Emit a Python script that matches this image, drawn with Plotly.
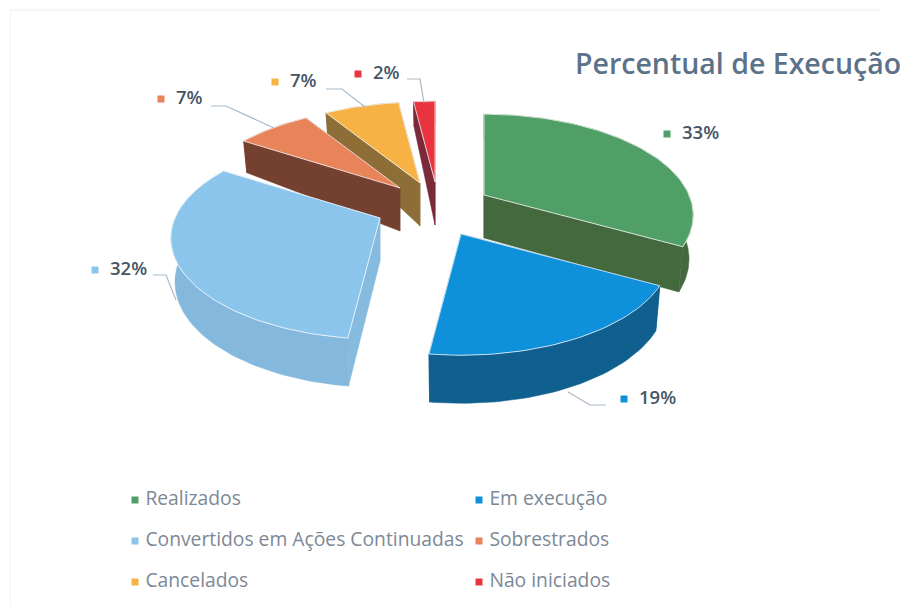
import math
import plotly.graph_objects as go

# ---- data ----
categories = ["Realizados", "Em execução", "Convertidos em Ações Continuadas",
              "Sobrestrados", "Cancelados", "Não iniciados"]
percent_values = [33, 19, 32, 7, 7, 2]
chart_title = "Percentual de Execução"

# ---- styles ----
top_colors = ["#4f9f66", "#0f90da", "#8cc5eb", "#e8835a", "#f7b246", "#e8343f"]
radial_colors = ["#45693f", "#0d5f8e", "#86badf", "#74402f", "#8d6e37", "#7a2a38"]
arc_colors = ["#44693f", "#0f5f8f", "#84b8dc", "#74402f", "#8d6e37", "#7a2a38"]

# ---- layout of the exploded pseudo-3D pie (pixel space) ----
apex_x = [484, 461, 380, 400, 420, 435]
apex_y = [195, 234, 218, 188, 183, 182]
RX, RY, PERSP, DEPTH = 205, 97, 0.2, 43
draw_order = [5, 4, 3, 2, 0, 1]

label_x = [667, 624, 95, 161, 275, 358]
label_y = [134, 399, 270, 99, 82, 74]
leaders = [None,
           ([568, 590, 606], [392, 405, 405]),
           ([153, 166, 176], [275, 275, 300]),
           ([211, 226, 274], [106, 106, 128]),
           ([326, 342, 365], [89, 89, 107]),
           ([407, 420, 424], [79, 79, 103])]

legend_x = [135, 479, 135, 479, 135, 479]
legend_y = [500, 500, 541, 541, 582, 582]

# the page has an 8 px body margin: the axes are shifted so that values are window pixels
PAGE_OFFSET = 8


def project(ax, ay, angle, radius, down=False):
    X, Y = radius * math.sin(angle), radius * math.cos(angle)
    s = 1 / (1 + PERSP * Y)
    if not down:
        return ax + RX * X * s, ay - RY * Y * s
    drop = DEPTH * (s ** 0.5 if s > 1 else s ** 3)
    return ax + 0.98 * RX * X * s, ay - RY * Y * s + drop


fig = go.Figure()

# faint scan edge of the pasted picture
fig.add_trace(go.Scatter(x=[10, 880], y=[10, 10], mode="lines",
                         line=dict(color="#ececec", width=1), hoverinfo="skip"))
fig.add_trace(go.Scatter(x=[10, 10], y=[10, 606], mode="lines",
                         line=dict(color="#f4f4f4", width=1), hoverinfo="skip"))

# slices, computed from the values
total = sum(percent_values)
starts, running = [], 0
for v in percent_values:
    starts.append(running / total * 2 * math.pi)
    running += v
ends = [starts[i] + percent_values[i] / total * 2 * math.pi for i in range(len(percent_values))]


def poly(points, color, line=None, name=None):
    xs, ys = zip(*points)
    fig.add_trace(go.Scatter(x=list(xs) + [xs[0]], y=list(ys) + [ys[0]], mode="lines",
                             fill="toself", fillcolor=color,
                             line=line or dict(color=color, width=0.5),
                             name=name, hoverinfo="name"))


for i in draw_order:
    ax, ay, a0, a1 = apex_x[i], apex_y[i], starts[i], ends[i]
    n = max(8, int((a1 - a0) * 40))
    angles = [a0 + (a1 - a0) * k / n for k in range(n + 1)]
    for a in (a0, a1):
        poly([project(ax, ay, a, 0), project(ax, ay, a, 1),
              project(ax, ay, a, 1, True), project(ax, ay, a, 0, True)], radial_colors[i])
    poly([project(ax, ay, a, 1) for a in angles] +
         [project(ax, ay, a, 1, True) for a in reversed(angles)], arc_colors[i])
    poly([project(ax, ay, 0, 0)] + [project(ax, ay, a, 1) for a in angles], top_colors[i],
         line=dict(color="rgba(255,255,255,0.75)", width=1), name=categories[i])

# leader lines
for path in leaders:
    if path:
        fig.add_trace(go.Scatter(x=path[0], y=path[1], mode="lines",
                                 line=dict(color="#a9b9c9", width=1.2), hoverinfo="skip"))

# data labels
fig.add_trace(go.Scatter(
    x=label_x, y=label_y, mode="markers+text", text=[f"  {v}%" for v in percent_values],
    textposition="middle right", hoverinfo="skip",
    marker=dict(symbol="square", size=7, color=top_colors),
    textfont=dict(family="Open Sans", size=18.5, color="#465566", weight=600)))

# legend
fig.add_trace(go.Scatter(
    x=legend_x, y=legend_y, mode="markers+text", text=[" " + c for c in categories],
    textposition="middle right", hoverinfo="skip",
    marker=dict(symbol="square", size=7, color=top_colors),
    textfont=dict(family="Open Sans", size=19.3, color="#7d8896")))

fig.add_annotation(x=573, y=63, xref="x", yref="y", text=chart_title, showarrow=False,
                   xanchor="left", yanchor="middle",
                   font=dict(family="Open Sans", size=28.5, color="#5c7289", weight=600))

fig.update_layout(
    width=908, height=606, margin=dict(l=0, r=0, t=0, b=0), showlegend=False,
    paper_bgcolor="white", plot_bgcolor="white",
    xaxis=dict(range=[PAGE_OFFSET, 908 + PAGE_OFFSET], visible=False, fixedrange=True),
    yaxis=dict(range=[606 + PAGE_OFFSET, PAGE_OFFSET], visible=False, fixedrange=True),
)
fig.write_html("out.html", config={"displayModeBar": False})
